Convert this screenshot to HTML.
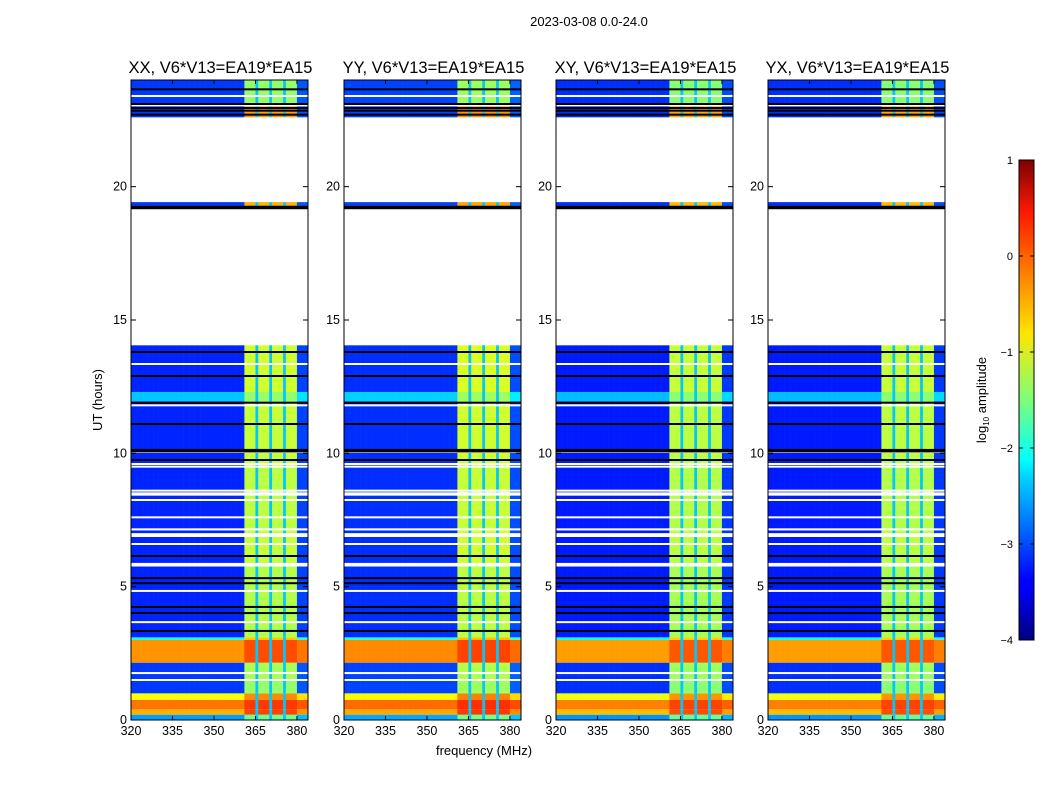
<!DOCTYPE html>
<html><head><meta charset="utf-8"><style>
body{margin:0;background:#fff;width:1050px;height:800px;overflow:hidden;font-family:"Liberation Sans",sans-serif}
svg text{font-family:"Liberation Sans",sans-serif}
</style></head><body>
<svg id="fig" width="1050" height="800" xmlns="http://www.w3.org/2000/svg">
<defs><linearGradient id="jet" x1="0" y1="1" x2="0" y2="0">
<stop offset="0" stop-color="#00007f"/><stop offset="0.11" stop-color="#0000ff"/><stop offset="0.125" stop-color="#0000ff"/>
<stop offset="0.34" stop-color="#00d4ff"/><stop offset="0.375" stop-color="#0ff"/><stop offset="0.5" stop-color="#7dff7a"/><stop offset="0.64" stop-color="#ffe600"/>
<stop offset="0.66" stop-color="#ffd200"/><stop offset="0.89" stop-color="#ff1a00"/><stop offset="1" stop-color="#7f0000"/></linearGradient></defs>
<text x="589" y="26" font-size="13" text-anchor="middle">2023-03-08 0.0-24.0</text>
<text x="484" y="755" font-size="13" text-anchor="middle">frequency (MHz)</text>
<text transform="translate(102,400) rotate(-90)" font-size="13" text-anchor="middle">UT (hours)</text>
<g id="panels"></g>
<g>
<rect x="1019" y="160" width="15" height="480" fill="url(#jet)" stroke="#000" stroke-width="1"/>
<g id="cbticks"></g>
<text transform="translate(986,400) rotate(-90)" font-size="13" text-anchor="middle">log<tspan font-size="8" dy="3">10</tspan><tspan dy="-3"> amplitude</tspan></text>
</g>
</svg>
<script>
// data
const panelTitles=["XX, V6*V13=EA19*EA15","YY, V6*V13=EA19*EA15","XY, V6*V13=EA19*EA15","YX, V6*V13=EA19*EA15"];
const xTicks=[320,335,350,365,380];
const yTicks=[0,5,10,15,20];
const cbTicks=[-4,-3,-2,-1,0,1];
// row segments: start hour, end hour, level outside band, level inside band
const segStart=[0,0.2,0.4,0.75,1.0,1.5,2.15,3.0,3.1,5.9,7.1,9.5,11.95,12.3,19.28,22.6,23.05];
const segEnd=[0.2,0.4,0.75,1.0,1.5,2.15,3.0,3.1,5.9,7.1,9.5,11.95,12.3,14.05,19.42,23.05,24];
const segBase=[-2.6,-0.5,-0.2,-0.9,-3.1,-3.1,-0.35,-2.0,-3.2,-3.2,-3.2,-3.2,-2.4,-3.2,-3.1,-3.1,-3.1];
const segBand=[-1.6,0.05,0.1,-0.3,-1.4,-1.3,0.0,-0.6,-1.25,-1.15,-1.2,-1.15,-1.4,-1.1,-0.5,-0.4,-1.4];
// per-panel level offsets
const panelOffset=[0,0.05,-0.05,-0.05];
const blackLines=[13.8,12.9,11.9,11.1,10.1,9.75,6.15,5.32,5.13,4.24,4.01,3.34,19.22,22.7,22.85,22.95,23.65,23.1];
const whiteLines=[13.35,11.8,10.05,9.6,9.5,8.6,8.5,8.45,8.25,7.6,7.15,6.97,6.9,6.6,5.85,4.84,3.67,1.76,1.5,23.4,23.05];
// frequency channels (MHz) and per-channel adjustment
const freqs=[];for(let f=320;f<384;f++)freqs.push(f);
const bandLo=361, bandHi=379.5;
const darkChans=[365,370,375];
const edgeChans=[380,381,382,383];

const NS="http://www.w3.org/2000/svg";
const pX=[131,344,556,768],pW=177,pT=80,pB=720;
const fMin=320,fMax=384,hMin=0,hMax=24;
const xs=(f,i)=>pX[i]+(f-fMin)/(fMax-fMin)*pW;
const ys=h=>pB-(h-hMin)/(hMax-hMin)*(pB-pT);
function jet(v){let t=(v+4)/5;t=Math.max(0,Math.min(1,t));
const c=x=>Math.round(255*Math.max(0,Math.min(1,x)));
return `rgb(${c(1.5-Math.abs(4*t-3))},${c(1.5-Math.abs(4*t-2))},${c(1.5-Math.abs(4*t-1))})`;}
function mk(tag,attrs,parent){const e=document.createElementNS(NS,tag);for(const k in attrs)e.setAttribute(k,attrs[k]);parent.appendChild(e);return e;}
const root=document.getElementById('panels');
for(let p=0;p<4;p++){
 const g=mk('g',{},root);
 
 
 const hm=mk('g',{},g);
 
 
 for(let s=0;s<segStart.length;s++){
  const y0=ys(segEnd[s]),y1=ys(segStart[s]);
  for(const f of freqs){
   let inB=f>=bandLo&&f<=bandHi;
   let v=(inB?segBand[s]:segBase[s])+panelOffset[p];
   if(inB&&darkChans.includes(f))v=Math.min(v,-2.4);
   if(!inB&&edgeChans.includes(f))v+=0.15;
   const r=mk('rect',{x:xs(f,p).toFixed(2),y:y0.toFixed(2),width:(xs(f+1,p)-xs(f,p)+0.3).toFixed(2),height:(y1-y0).toFixed(2),fill:jet(v)},hm);
   
   
  }
 }
 for(const h of whiteLines){const l=mk('rect',{x:pX[p],y:ys(h)-1,width:pW,height:h===5.85?3.5:2,fill:'#fff'},hm);
  
  }
 for(const h of blackLines){const th=(h===10.1||h===19.22)?3.5:2;const l=mk('rect',{x:pX[p],y:ys(h)-th/2,width:pW,height:th,fill:'#000'},hm);
  
  }
 const fr=mk('rect',{x:pX[p],y:pT,width:pW,height:pB-pT,fill:'none',stroke:'#000','stroke-width':1},g);
 
 
 const t=mk('text',{x:pX[p]+pW/2+1,y:73,'font-size':16.5,'text-anchor':'middle'},g);t.textContent=panelTitles[p];
 
 
 for(const v of xTicks){const x=xs(v,p);
  mk('line',{x1:x,x2:x,y1:pB,y2:pB-4,stroke:'#000'},g);mk('line',{x1:x,x2:x,y1:pT,y2:pT+4,stroke:'#000'},g);
  const tl=mk('text',{x:x,y:735,'font-size':12.5,'text-anchor':'middle'},g);tl.textContent=v;
  
  }
 for(const v of yTicks){const y=ys(v);
  mk('line',{x1:pX[p],x2:pX[p]+5,y1:y,y2:y,stroke:'#000'},g);mk('line',{x1:pX[p]+pW,x2:pX[p]+pW-5,y1:y,y2:y,stroke:'#000'},g);
  const tl=mk('text',{x:pX[p]-4,y:y+4,'font-size':12.5,'text-anchor':'end'},g);tl.textContent=v;
  
  }
}
const cb=document.getElementById('cbticks');
for(const v of cbTicks){const y=640-(v+4)/5*480;
 mk('line',{x1:1019,x2:1023,y1:y,y2:y,stroke:'#000'},cb);mk('line',{x1:1034,x2:1030,y1:y,y2:y,stroke:'#000'},cb);
 const tl=mk('text',{x:1013,y:y+4,'font-size':11,'text-anchor':'end'},cb);tl.textContent=v<0?'\u2212'+(-v):v;
 
 }
</script>
</body></html>
